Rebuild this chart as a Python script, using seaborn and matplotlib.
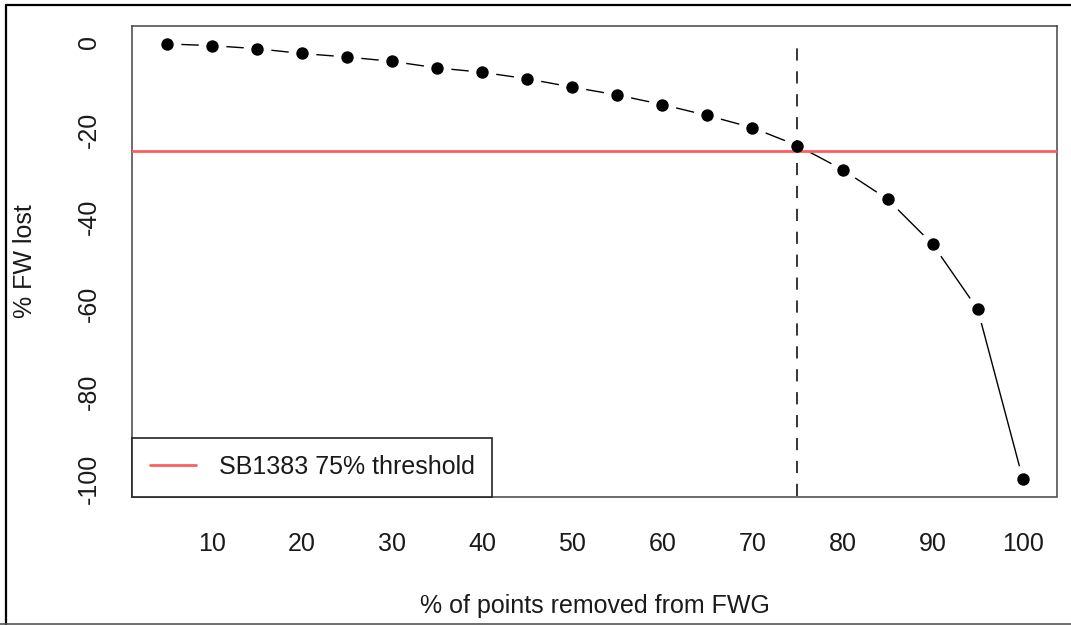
import numpy as np
import pandas as pd
import matplotlib
matplotlib.use("Agg")
import matplotlib.pyplot as plt
from matplotlib.lines import Line2D
import seaborn as sns

################################################
#                 Data
################################################
pct_removed = [5, 10, 15, 20, 25, 30, 35, 40, 45, 50,
               55, 60, 65, 70, 75, 80, 85, 90, 95, 100]
pct_fw_lost = [-0.4, -0.8, -1.5, -2.6, -3.4, -4.4, -5.9, -6.9, -8.4, -10.3,
               -12.1, -14.3, -16.8, -19.6, -23.7, -29.2, -36.0, -46.3, -61.2, -100.0]
threshold_y = -25
threshold_x = 75
threshold_label = "SB1383 75% threshold"
x_ticks = list(range(5, 101, 5))
x_ticklabels = [str(v) if v % 10 == 0 else "" for v in x_ticks]
y_ticks = list(range(0, -101, -10))
y_ticklabels = [str(v) if v % 20 == 0 else "" for v in y_ticks]
x_label = "% of points removed from FWG"
y_label = "% FW lost"

df = pd.DataFrame({"removed": pct_removed, "lost": pct_fw_lost})

################################################
#                 Styling
################################################
sns.set_theme(style="white")
plt.rcParams['font.family'] = ['Liberation Sans', 'DejaVu Sans']
txt = "#1a1a1a"
frame = "#444444"
red = "#ff5e5e"

fig = plt.figure(figsize=(10.71, 6.25), dpi=100)
ax = fig.add_axes([0.1237, 0.2056, 0.8632, 0.7528])

# line with gaps around the points (R type = "b")
sns.lineplot(data=df, x="removed", y="lost", ax=ax, color="black",
             linewidth=1.0, sort=False, zorder=2)
sns.scatterplot(data=df, x="removed", y="lost", ax=ax, color="white",
                s=400, linewidth=0, zorder=2.5)
hl = ax.axhline(threshold_y, color=red, linewidth=2.0, zorder=3,
                label=threshold_label)
ax.vlines(threshold_x, -104.1, 0.9, colors="black", linewidth=1.1,
          linestyles=(0, (8, 7)), zorder=3)
sns.scatterplot(data=df, x="removed", y="lost", ax=ax, color="black",
                s=80, linewidth=0, zorder=4)

ax.set_xlim(1.2, 103.8)
ax.set_ylim(-104.1, 3.7)
ax.set_xticks(x_ticks)
ax.set_xticklabels(x_ticklabels)
ax.set_yticks(y_ticks)
ax.set_yticklabels(y_ticklabels)
plt.setp(ax.get_yticklabels(), rotation=90, va="center")

ax.tick_params(axis="both", direction="out", length=10.8, width=1.1,
               colors=frame, labelcolor=txt, labelsize=18)
ax.tick_params(axis="x", pad=15)
ax.tick_params(axis="y", pad=12)
for sp in ax.spines.values():
    sp.set_visible(True)
    sp.set_color(frame)
    sp.set_linewidth(1.1)

ax.set_xlabel(x_label, fontsize=18, color=txt, labelpad=27)
ax.set_ylabel(y_label, fontsize=18, color=txt, labelpad=29)

leg = ax.legend(handles=[hl], loc="lower left", borderaxespad=0,
                fontsize=18, frameon=True, fancybox=False,
                handlelength=1.85, handletextpad=0.9, borderpad=0.7)
leg.get_frame().set_edgecolor("#222222")
leg.get_frame().set_linewidth(1.2)
leg.get_frame().set_alpha(1)
for t in leg.get_texts():
    t.set_color(txt)

# outer border of the original picture
fig.add_artist(Line2D([5.5 / 1071, 5.5 / 1071], [0.0, 1 - 5 / 625],
                      color="black", linewidth=1.6))
fig.add_artist(Line2D([5.5 / 1071, 1.0], [1 - 5 / 625, 1 - 5 / 625],
                      color="black", linewidth=1.6))
fig.add_artist(Line2D([0.0, 1.0], [1.5 / 625, 1.5 / 625],
                      color="#555555", linewidth=1.2))

fig.savefig("out.png", dpi=100)
plt.close(fig)
